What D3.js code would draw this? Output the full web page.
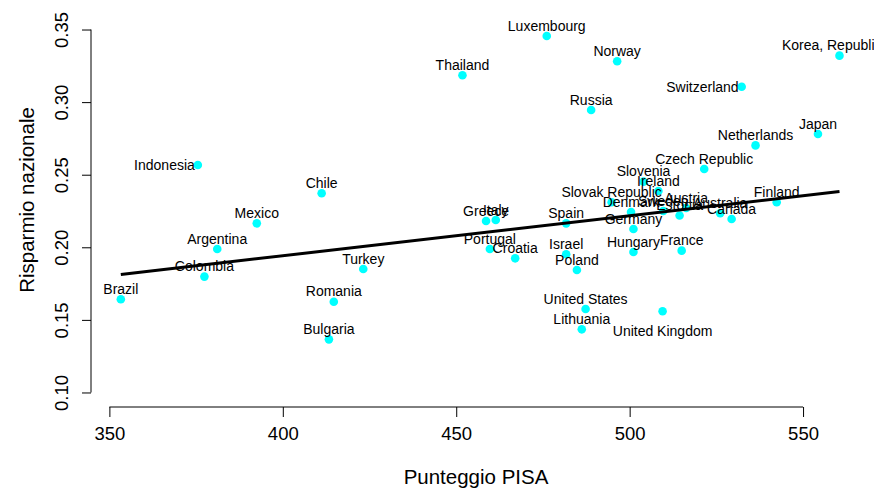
<!DOCTYPE html>
<html><head><meta charset="utf-8">
<script src="https://cdn.jsdelivr.net/npm/d3@7"></script>
<style>
body{margin:0;background:#fff}
svg{display:block}
text{font-family:"Liberation Sans", Arial, Helvetica, sans-serif;fill:#000}
</style>
</head><body>
<svg id="chart" width="874" height="489"></svg>
<script>
// ---- data ----
const countries = ["Brazil","Indonesia","Colombia","Argentina","Mexico","Chile","Bulgaria","Romania","Turkey","Thailand",
  "Greece","Portugal","Italy","Croatia","Luxembourg","Spain","Israel","Poland","Lithuania","United States",
  "Russia","Slovak Republic","Norway","Denmark","Germany","Hungary","Slovenia","Ireland","United Kingdom","Sweden",
  "Estonia","France","Austria","Czech Republic","Australia","Canada","Switzerland","Netherlands","Finland","Japan",
  "Korea, Republic of"];
const pisaScore = [353.3,375.5,377.4,381.1,392.5,411.2,413.3,414.7,423.2,451.8,
  458.6,459.7,461.4,467.0,476.1,481.7,481.7,484.8,486.2,487.3,
  488.9,494.8,496.4,500.4,501.1,501.1,504.0,508.3,509.5,509.7,
  514.4,515.0,516.3,521.5,526.1,529.4,532.3,536.3,542.4,554.3,
  560.5];
const nationalSaving = [0.1642,0.2567,0.1798,0.1988,0.2165,0.2372,0.1366,0.1625,0.1851,0.3185,
  0.2181,0.1988,0.2188,0.1924,0.3455,0.2165,0.1952,0.1844,0.1435,0.1575,
  0.2946,0.2310,0.3281,0.2243,0.2126,0.1968,0.2452,0.2388,0.1559,0.2250,
  0.2219,0.1977,0.2271,0.2539,0.2234,0.2195,0.3106,0.2702,0.2310,0.2780,
  0.3320];
// label side: 3 = above, 1 = below, 2 = left
const labelSide = [3,2,3,3,3,3,3,3,3,3,
  3,3,3,3,3,3,3,3,3,3,
  3,3,3,3,3,3,3,3,1,3,
  3,3,3,3,3,3,2,3,3,3,
  3];
const fitX = [353.3, 560.5];
const fitY = [0.1813, 0.2384];
const xTicks = [350, 400, 450, 500, 550];
const yTicks = [0.10, 0.15, 0.20, 0.25, 0.30, 0.35];
const xDomain = [344.7, 569.3];
const yDomain = [0.09, 0.36];
const xTitle = "Punteggio PISA";
const yTitle = "Risparmio nazionale";

// ---- layout ----
const W = 874, H = 489;
const plot = {left: 91, right: 870, top: 15, bottom: 407};
const svg = d3.select("#chart");
const x = d3.scaleLinear().domain(xDomain).range([plot.left, plot.right]);
const y = d3.scaleLinear().domain(yDomain).range([plot.bottom, plot.top]);

const tickFont = 18.5, titleFont = 20.5, labelFont = 14;

// x axis
const gx = svg.append("g").attr("transform", `translate(0,${plot.bottom})`)
  .call(d3.axisBottom(x).tickValues(xTicks).tickSize(10).tickPadding(10).tickFormat(d3.format("d")));
gx.select(".domain").remove();
gx.selectAll(".tick line").attr("stroke", "#000");
gx.selectAll(".tick text").attr("font-size", tickFont).attr("font-family", null);
gx.append("line").attr("x1", x(xTicks[0])).attr("x2", x(xTicks[xTicks.length-1]))
  .attr("y1", 0).attr("y2", 0).attr("stroke", "#000");

// y axis
const gy = svg.append("g").attr("transform", `translate(${plot.left},0)`)
  .call(d3.axisLeft(y).tickValues(yTicks).tickSize(9).tickFormat(d3.format(".2f")));
gy.select(".domain").remove();
gy.selectAll(".tick line").attr("stroke", "#000");
gy.selectAll(".tick text").attr("font-size", tickFont).attr("font-family", null)
  .attr("x", null).attr("dy", null).attr("text-anchor", "middle")
  .attr("transform", `translate(${68 - plot.left},0) rotate(-90)`);
gy.append("line").attr("y1", y(yTicks[0])).attr("y2", y(yTicks[yTicks.length-1]))
  .attr("x1", 0).attr("x2", 0).attr("stroke", "#000");

// titles
svg.append("text").attr("x", 476).attr("y", 484)
  .attr("text-anchor", "middle").attr("font-size", titleFont).text(xTitle);
svg.append("text").attr("transform", `translate(34,200) rotate(-90)`)
  .attr("text-anchor", "middle").attr("font-size", titleFont).text(yTitle);

// points
const data = countries.map((c, i) => ({c, px: pisaScore[i], s: nationalSaving[i], pos: labelSide[i]}));
svg.append("g").selectAll("circle").data(data).join("circle")
  .attr("cx", d => x(d.px)).attr("cy", d => y(d.s)).attr("r", 4.3).attr("fill", "#00FFFF");

// labels
svg.append("g").selectAll("text").data(data).join("text")
  .attr("font-size", labelFont)
  .attr("x", d => d.pos === 2 ? x(d.px) - 3 : x(d.px))
  .attr("y", d => d.pos === 3 ? y(d.s) - 5.3 : d.pos === 1 ? y(d.s) + 25 : y(d.s) + 5)
  .attr("text-anchor", d => d.pos === 2 ? "end" : "middle")
  .text(d => d.c);

// fitted line
svg.append("line")
  .attr("x1", x(fitX[0])).attr("y1", y(fitY[0]))
  .attr("x2", x(fitX[1])).attr("y2", y(fitY[1]))
  .attr("stroke", "#000").attr("stroke-width", 3);
</script>
</body></html>
